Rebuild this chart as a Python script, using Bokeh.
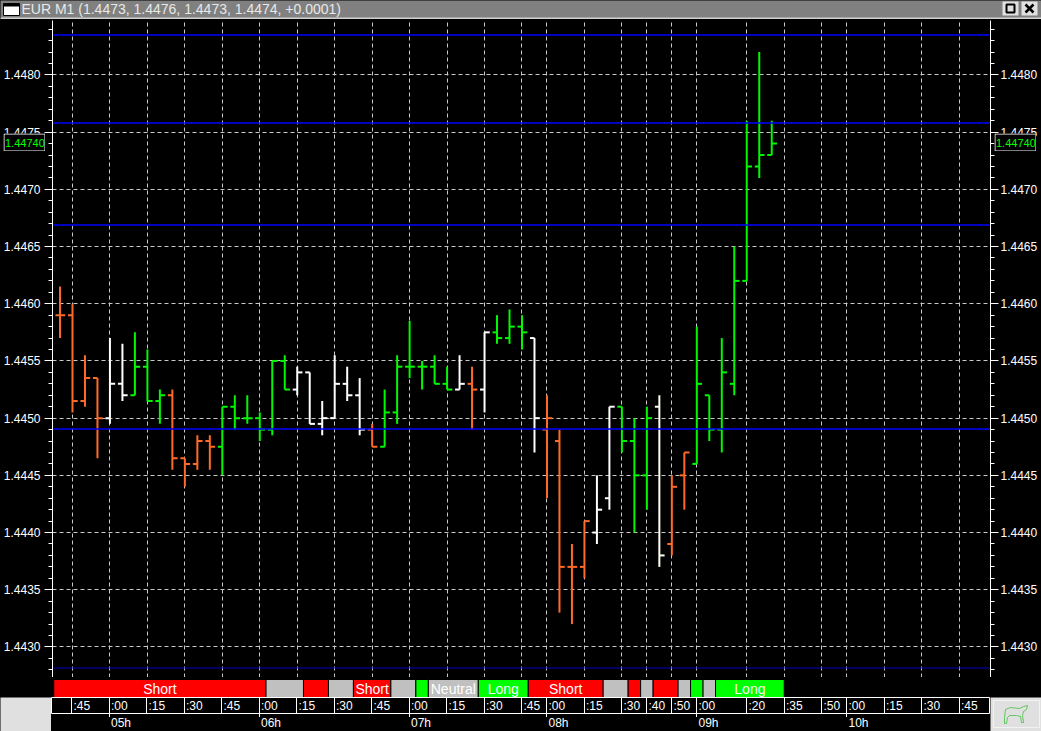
from bokeh.plotting import figure
from bokeh.models import (Range1d, LinearAxis, FixedTicker, Label, LabelSet,
                          ColumnDataSource, PrintfTickFormatter)
from bokeh.layouts import column, row
from bokeh.core.properties import value
from bokeh.embed import file_html
from bokeh.resources import INLINE

FONT = "Liberation Sans"

title_text = "EUR M1 (1.4473, 1.4476, 1.4473, 1.4474, +0.0001)"
last_label = "1.44740"

opens = [1.4459, 1.4459, 1.44515, 1.44535, 1.4450, 1.4453, 1.4452, 1.44545, 1.44515, 1.4452,
         1.44465, 1.4446, 1.4448, 1.44475, 1.4451, 1.4450, 1.4450, 1.4449, 1.4455, 1.44525,
         1.4454, 1.44495, 1.4450, 1.4453, 1.4452, 1.4449, 1.44475, 1.44505, 1.44545, 1.44545,
         1.44545, 1.4453, 1.44525, 1.4453, 1.44525, 1.44575, 1.4457, 1.4458, 1.4457, 1.4449,
         1.4448, 1.4437, 1.4437, 1.4440, 1.4443, 1.4451, 1.4448, 1.4445, 1.4451, 1.4439,
         1.4445, 1.4446, 1.4452, 1.4449, 1.4453, 1.4462, 1.4472, 1.4473]
highs = [1.44615, 1.4460, 1.44555, 1.44535, 1.4457, 1.44565, 1.44575, 1.4456, 1.44525, 1.44525,
         1.44465, 1.44485, 1.44485, 1.4451, 1.4452, 1.4452, 1.44505, 1.4455, 1.44555, 1.44545,
         1.4454, 1.44515, 1.44555, 1.44545, 1.44535, 1.44495, 1.44525, 1.44555, 1.44585, 1.4455,
         1.44555, 1.44545, 1.44555, 1.44545, 1.44575, 1.4459, 1.44595, 1.4459, 1.4457, 1.4452,
         1.4449, 1.4439, 1.4441, 1.4445, 1.4451, 1.4451, 1.4450, 1.4451, 1.4452, 1.4445,
         1.4447, 1.4458, 1.4452, 1.4457, 1.4465, 1.4476, 1.4482, 1.4476]
lows = [1.4457, 1.44505, 1.4451, 1.44465, 1.44495, 1.44515, 1.4452, 1.44515, 1.44495, 1.44455,
        1.4444, 1.44455, 1.44455, 1.4445, 1.4449, 1.44495, 1.4448, 1.44485, 1.44525, 1.4452,
        1.44495, 1.44485, 1.4450, 1.44515, 1.44485, 1.44475, 1.44475, 1.44495, 1.44535, 1.44525,
        1.4453, 1.44525, 1.44525, 1.4449, 1.44505, 1.44565, 1.44565, 1.4456, 1.4447, 1.4443,
        1.4433, 1.4432, 1.4436, 1.4439, 1.4442, 1.4447, 1.4440, 1.4442, 1.4437, 1.4438,
        1.4442, 1.4446, 1.4448, 1.4447, 1.4452, 1.4462, 1.4471, 1.4473]
closes = [1.4459, 1.44515, 1.44535, 1.4450, 1.4453, 1.4452, 1.44545, 1.44515, 1.4452, 1.44465,
          1.4446, 1.4448, 1.44475, 1.4451, 1.4450, 1.4450, 1.4449, 1.4455, 1.44525, 1.4454,
          1.44495, 1.4450, 1.4453, 1.4452, 1.4449, 1.44475, 1.44505, 1.44545, 1.44545, 1.44545,
          1.4453, 1.44525, 1.4453, 1.44525, 1.44575, 1.4457, 1.4458, 1.44575, 1.4450, 1.4450,
          1.4437, 1.4437, 1.4441, 1.4442, 1.4451, 1.4448, 1.4445, 1.4450, 1.4438, 1.4444,
          1.4447, 1.4453, 1.4449, 1.4454, 1.4462, 1.4472, 1.4473, 1.4474]
bar_states = ["S", "S", "S", "S", "W", "W", "L", "L", "L", "S",
              "S", "S", "S", "L", "L", "L", "L", "L", "L", "W",
              "W", "W", "W", "W", "W", "S", "L", "L", "L", "L",
              "L", "L", "W", "S", "W", "L", "L", "L", "W", "S",
              "S", "S", "S", "W", "W", "L", "L", "L", "C", "S",
              "S", "L", "L", "L", "L", "L", "L", "L"]
bar_palette = {"S": "#ff6a28", "W": "#ffffff", "L": "#00f800", "C": "#fffff0"}

levels = [1.448349, 1.447580, 1.446688, 1.444905]
level_low = 1.442816

price_ticks = [1.4430, 1.4435, 1.4440, 1.4445, 1.4450, 1.4455, 1.4460, 1.4465, 1.4470, 1.4475, 1.4480]
price_minor = [1.4428, 1.4429, 1.4431, 1.4432, 1.4433, 1.4434, 1.4436, 1.4437, 1.4438, 1.4439,
               1.4441, 1.4442, 1.4443, 1.4444, 1.4446, 1.4447, 1.4448, 1.4449, 1.4451, 1.4452,
               1.4453, 1.4454, 1.4456, 1.4457, 1.4458, 1.4459, 1.4461, 1.4462, 1.4463, 1.4464,
               1.4466, 1.4467, 1.4468, 1.4469, 1.4471, 1.4472, 1.4473, 1.4474, 1.4476, 1.4477,
               1.4478, 1.4479, 1.4481, 1.4482, 1.4483, 1.4484]

minute_ticks = [1, 4, 7, 10, 13, 16, 19, 22, 25, 28, 31, 34, 37, 39, 42, 45, 47, 49, 51, 55, 58, 61, 63, 66, 69, 72]
minute_labels = [":45", ":00", ":15", ":30", ":45", ":00", ":15", ":30", ":45", ":00", ":15", ":30", ":45",
                 ":00", ":15", ":30", ":40", ":50", ":00", ":20", ":35", ":50", ":00", ":15", ":30", ":45"]
hour_ticks = [4, 16, 28, 39, 51, 63]
hour_labels = ["05h", "06h", "07h", "08h", "09h", "10h"]

state_edges = [-0.5, 16.5, 19.5, 21.5, 23.5, 26.5, 28.5, 29.5, 33.5, 37.5,
               43.5, 45.5, 46.5, 47.5, 49.5, 50.5, 51.5, 52.5, 58.0]
state_kinds = ["Short", "Neutral", "Short", "Neutral", "Short", "Neutral", "Long", "Neutral", "Long",
               "Short", "Neutral", "Short", "Neutral", "Short", "Neutral", "Long", "Neutral", "Long"]
state_texts = ["Short", "", "", "", "Short", "", "", "Neutral", "Long",
               "Short", "", "", "", "", "", "", "", "Long"]
state_palette = {"Short": "#ff0000", "Neutral": "#c0c0c0", "Long": "#00ff00"}

PANEL = "#e0e0e0"
X_MIN, X_MAX = -0.6, 74.52
x_range = Range1d(X_MIN, X_MAX)


def bare(w, h, xr, yr, bg, **kw):
    f = figure(width=w, height=h, x_range=xr, y_range=yr, toolbar_location=None, output_backend="svg",
               x_axis_location=None, y_axis_location=None, min_border=0,
               background_fill_color=bg, border_fill_color=bg, outline_line_color=None, **kw)
    f.grid.visible = False
    return f


# ---------- window title bar
head = bare(1041, 19, Range1d(0, 1041), Range1d(19, 0), "#808080")
head.quad(left=[0], right=[1041], top=[17], bottom=[19], color="#d0d0d0", line_color=None)
head.quad(left=[3], right=[19], top=[3], bottom=[15], fill_color="#ffffff", line_color="#000000", line_width=1)
head.quad(left=[3], right=[19], top=[3], bottom=[6], color="#000000", line_color=None)
head.quad(left=[1002, 1021], right=[1018, 1037], top=[1, 1], bottom=[15, 15], color=PANEL, line_color=None)
head.quad(left=[1006], right=[1014], top=[4], bottom=[12], fill_color=None, line_color="#000000", line_width=2)
head.segment(x0=[1025, 1033], y0=[4, 4], x1=[1033, 1025], y1=[12, 12], line_color="#000000", line_width=2.5)
head.add_layout(Label(x=21, y=8.5, text=title_text, text_font=FONT, text_font_size="14px",
                      text_color="#e8e8e8", text_baseline="middle"))

# ---------- price panel
main = figure(width=1041, height=658, x_range=x_range, y_range=Range1d(1.442733, 1.448476),
              toolbar_location=None, output_backend="svg", x_axis_location=None, y_axis_location="left",
              background_fill_color="#000000", border_fill_color="#000000", outline_line_color=None,
              min_border_left=51, min_border_right=51, min_border_top=1, min_border_bottom=0)
ticker = FixedTicker(ticks=price_ticks, minor_ticks=price_minor)
right_axis = LinearAxis()
main.add_layout(right_axis, "right")
for ax in (main.yaxis[0], right_axis):
    ax.ticker = ticker
    ax.formatter = PrintfTickFormatter(format="%.4f")
    ax.axis_line_color = "#ffffff"
    ax.axis_line_width = 1
    ax.major_tick_line_color = "#ffffff"
    ax.minor_tick_line_color = "#ffffff"
    ax.major_tick_out = 8
    ax.major_tick_in = 0
    ax.minor_tick_out = 4
    ax.minor_tick_in = 0
    ax.major_label_text_color = "#ffffff"
    ax.major_label_text_font = FONT
    ax.major_label_text_font_size = "12px"
main.yaxis[0].major_label_standoff = 4
right_axis.major_label_standoff = 2
main.ygrid.ticker = FixedTicker(ticks=price_ticks)
main.xgrid.ticker = FixedTicker(ticks=minute_ticks)
for g in (main.xgrid[0], main.ygrid[0]):
    g.grid_line_color = "#c8c8c8"
    g.grid_line_dash = "4 3"
    g.grid_line_width = 1

idx = list(range(len(opens)))
cols = [bar_palette[s] for s in bar_states]
bars = ColumnDataSource(dict(
    x=idx, o=opens, h=highs, l=lows, c=closes, col=cols,
    xl=[i - 0.36 for i in idx], xr=[i + 0.42 for i in idx]))
main.segment(x0="x", y0="l", x1="x", y1="h", source=bars, line_color="col", line_width=2)
main.segment(x0="xl", y0="o", x1="x", y1="o", source=bars, line_color="col", line_width=2)
main.segment(x0="x", y0="c", x1="xr", y1="c", source=bars, line_color="col", line_width=2)

main.segment(x0=[X_MIN] * len(levels), x1=[X_MAX] * len(levels), y0=levels, y1=levels,
             line_color="#0000ff", line_width=1.5)
main.segment(x0=[X_MIN], x1=[X_MAX], y0=[level_low], y1=[level_low], line_color="#0000c0", line_width=1.2)


def price_box(left):
    b = bare(42, 18, Range1d(0, 42), Range1d(18, 0), "#000000")
    b.quad(left=[0.5], right=[41.5], top=[0.5], bottom=[17.5], fill_color=None, line_color="#ffffff", line_width=1)
    b.add_layout(Label(x=1.5, y=9, text=last_label, text_font=FONT, text_font_size="11px",
                       text_color="#00ff00", text_baseline="middle"))
    return column(b, spacing=0, width=42, height=18,
                  styles={"position": "absolute", "left": f"{left}px", "top": "133px", "z-index": "10"})


# ---------- state strip
strip = figure(width=1041, height=20, x_range=x_range, y_range=Range1d(0, 20), toolbar_location=None,
               output_backend="svg", x_axis_location=None, y_axis_location=None,
               background_fill_color="#000000", border_fill_color="#000000", outline_line_color=None,
               min_border_left=51, min_border_right=51, min_border_top=0, min_border_bottom=0)
strip.grid.visible = False
n = len(state_kinds)
sdata = ColumnDataSource(dict(
    l=state_edges[:-1], r=state_edges[1:], b=[0] * n, t=[18] * n,
    col=[state_palette[k] for k in state_kinds],
    m=[(a + b) / 2 for a, b in zip(state_edges[:-1], state_edges[1:])],
    y=[8.5] * n, txt=state_texts))
strip.quad(left="l", right="r", bottom="b", top="t", source=sdata, fill_color="col", line_color="#000000", line_width=1)
strip.text(x="m", y="y", text="txt", source=sdata, text_color="#ffffff", text_font=value(FONT),
           text_font_size="14px", text_align="center", text_baseline="middle")

# ---------- time axis
left_panel = bare(51, 34, Range1d(0, 1), Range1d(0, 1), PANEL)

tf = figure(width=939, height=20, x_range=x_range, y_range=Range1d(0, 1), toolbar_location=None,
            output_backend="svg", x_axis_location="below", y_axis_location=None,
            background_fill_color="#000000", border_fill_color="#000000",
            outline_line_color="#ffffff", outline_line_width=1,
            min_border_left=0, min_border_right=0, min_border_top=0, min_border_bottom=4)
tf.xgrid.ticker = FixedTicker(ticks=minute_ticks)
tf.xgrid.grid_line_color = "#ffffff"
tf.xgrid.grid_line_width = 1
tf.ygrid.visible = False
tf.xaxis.ticker = FixedTicker(ticks=hour_ticks)
tf.xaxis.axis_line_color = None
tf.xaxis.major_tick_line_color = "#ffffff"
tf.xaxis.major_tick_out = 4
tf.xaxis.major_tick_in = 0
tf.xaxis.minor_tick_line_color = None
tf.xaxis.major_label_text_color = None
tf.xaxis.major_label_text_font_size = "1px"
tf.xaxis.major_label_standoff = 0
tf.add_layout(LabelSet(x="x", y="y", text="t", x_offset=2,
                       source=ColumnDataSource(dict(x=minute_ticks, y=[0.5] * len(minute_ticks), t=minute_labels)),
                       text_color="#ffffff", text_font=value(FONT), text_font_size="12px", text_baseline="middle"))

hf = bare(939, 12, x_range, Range1d(0, 12), "#000000")
hf.add_layout(LabelSet(x="x", y="y", text="t", x_offset=2,
                       source=ColumnDataSource(dict(x=hour_ticks, y=[6.5] * len(hour_ticks), t=hour_labels)),
                       text_color="#ffffff", text_font=value(FONT), text_font_size="12px", text_baseline="middle"))
foot = bare(939, 2, Range1d(0, 1), Range1d(0, 1), "#f0f0f0")

logo = bare(51, 34, Range1d(-2, 49), Range1d(34, 0), PANEL)
logo.quad(left=[1], right=[47], top=[3], bottom=[30], fill_color=None, line_color="#f2f2f2", line_width=1)
logo.line(x=[13, 18, 27, 31, 35, 34, 31, 30, 31, 29, 28, 24, 17, 15, 14, 12, 12, 13],
          y=[12, 10, 11, 9, 8, 12, 14, 18, 25, 25, 19, 18, 18, 20, 26, 26, 20, 12],
          line_color="#40c040", line_width=0.8)

page = column(row(head, spacing=0), main, strip,
              row(left_panel, column(tf, hf, foot, spacing=0), logo, spacing=0),
              price_box(3), price_box(994),
              spacing=0, styles={"background-color": "#000000", "position": "relative"})
open("out.html", "w").write(file_html(page, INLINE))
